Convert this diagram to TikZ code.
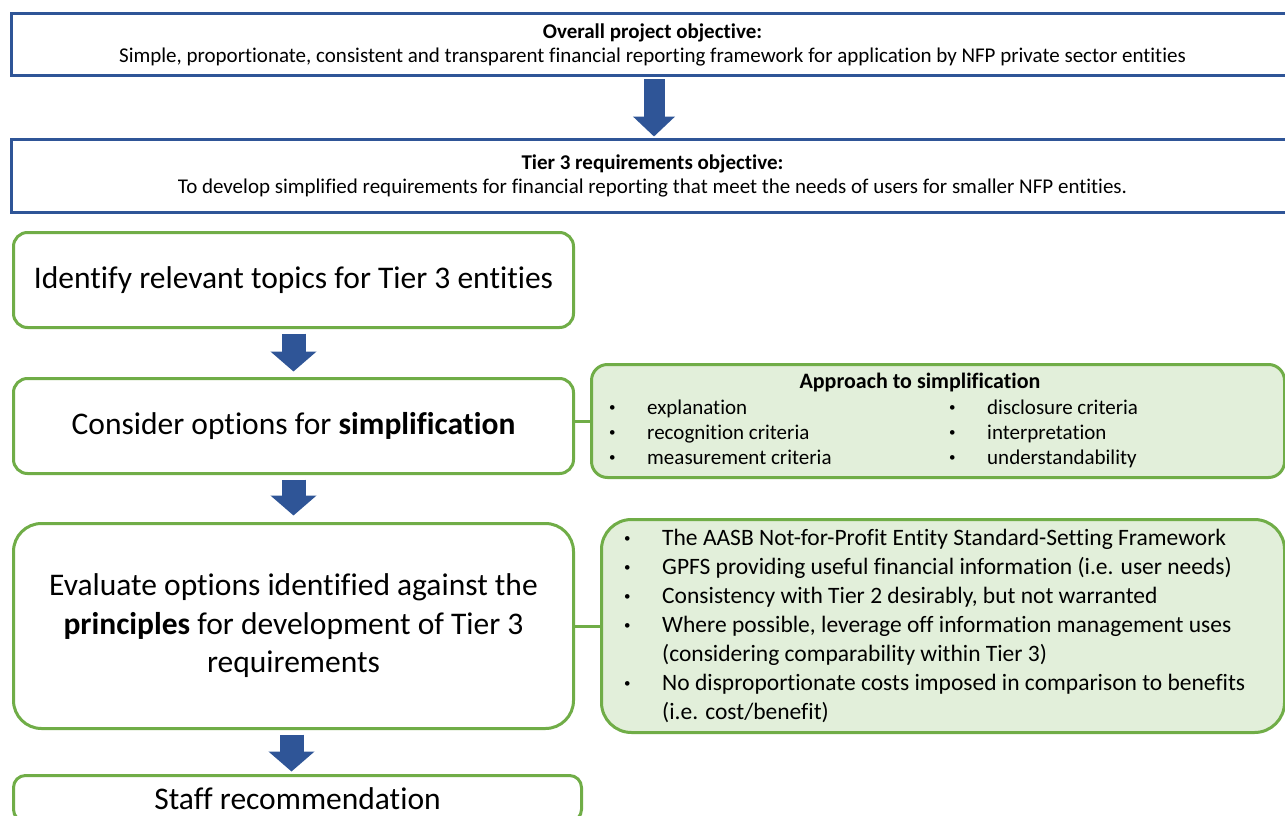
\documentclass[tikz,border=0pt]{standalone}
\usepackage{fontspec}
\setmainfont{Carlito}[Ligatures=NoCommon]
\usetikzlibrary{arrows.meta}
\definecolor{bblue}{HTML}{2F5597}
\definecolor{ggreen}{HTML}{70AD47}
\definecolor{gfill}{HTML}{E2EFDA}
\newcommand{\dotb}{\raisebox{2.5pt}{\fontsize{13}{13}\selectfont •}}
\tikzset{
  bluebox/.style={draw=bblue, line width=3pt, fill=white, rectangle, anchor=north west, align=center, inner sep=0pt, font=\fontsize{21}{24}\selectfont},
  greenbox/.style={draw=ggreen, line width=3pt, fill=white, rectangle, anchor=north west, align=center, inner sep=0pt, font=\fontsize{31.5}{38.5}\selectfont},
  notebox/.style={greenbox, fill=gfill},
  bigarrow/.style={draw=bblue, -{Triangle[width=#1, length=20pt]}},
  link/.style={draw=ggreen, line width=3pt},
  listtext/.style={anchor=base west, inner sep=0pt, align=left}
}
\begin{document}
\begin{tikzpicture}[x=1pt,y=-1pt]
\useasboundingbox (0,0) rectangle (1285,816);
\clip (0,0) rectangle (1285,816);
\fill[white] (0,0) rectangle (1285,816);

% blue objective boxes
\node[bluebox, minimum width=1282pt, minimum height=62pt] (obj) at (10,12)
  {\textbf{Overall project objective:}\\Simple, proportionate, consistent and transparent financial reporting framework for application by NFP private sector entities};
\node[bluebox, minimum width=1282pt, minimum height=73pt] (tier) at (10,138)
  {\textbf{Tier 3 requirements objective:}\\To develop simplified requirements for financial reporting that meet the needs of users for smaller NFP entities.};

% green process boxes
\node[greenbox, rounded corners=14pt, minimum width=560pt, minimum height=95pt] (ident) at (12,231)
  {Identify relevant topics for Tier 3 entities};
\node[greenbox, rounded corners=14pt, minimum width=560pt, minimum height=95pt] (cons) at (12,377)
  {Consider options for \textbf{simplification}};
\node[notebox, rounded corners=16pt, minimum width=693pt, minimum height=113pt] (appr) at (590,363) {};
\node[greenbox, rounded corners=28pt, minimum width=560pt, minimum height=205pt] (eval) at (12,522)
  {Evaluate options identified against the\\\textbf{principles} for development of Tier 3\\requirements};
\node[notebox, rounded corners=30pt, minimum width=683pt, minimum height=213pt] (princ) at (600,518) {};
\node[greenbox, rounded corners=12pt, minimum width=568pt, minimum height=46pt] (staff) at (12,774)
  {Staff recommendation};

% text of the approach box
\node[inner sep=0pt, font=\bfseries\fontsize{22}{24}\selectfont] (apprt) at (920,383) {Approach to simplification};
\node[listtext, font=\fontsize{21}{25}\selectfont] (apprl) at (609,414)
  {\begin{tabular}[t]{@{}p{38pt}@{}l@{}}
   \dotb & explanation\\
   \dotb & recognition criteria\\
   \dotb & measurement criteria
   \end{tabular}};
\node[listtext, font=\fontsize{21}{25}\selectfont] (apprr) at (949,414)
  {\begin{tabular}[t]{@{}p{38pt}@{}l@{}}
   \dotb & disclosure criteria\\
   \dotb & interpretation\\
   \dotb & understandability
   \end{tabular}};

% text of the principles box
\node[listtext, font=\fontsize{23.5}{29}\selectfont] (princl) at (624,545)
  {\begin{tabular}[t]{@{}p{38pt}@{}l@{}}
   \dotb & The AASB Not-for-Profit Entity Standard-Setting Framework\\
   \dotb & GPFS providing useful financial information (i.e. user needs)\\
   \dotb & Consistency with Tier 2 desirably, but not warranted\\
   \dotb & Where possible, leverage off information management uses\\
     & (considering comparability within Tier 3)\\
   \dotb & No disproportionate costs imposed in comparison to benefits\\
     & (i.e. cost/benefit)
   \end{tabular}};

% block arrows
\draw[bigarrow=41pt, line width=21pt, shorten <=2.5pt, shorten >=1.5pt] (obj.south -| 654,0) -- (tier.north -| 654,0);
\draw[bigarrow=45pt, line width=24pt, shorten <=4.5pt, shorten >=5.5pt] (ident.south) -- (cons.north);
\draw[bigarrow=45pt, line width=24pt, shorten <=4.5pt, shorten >=6.5pt] (cons.south) -- (eval.north);
\draw[bigarrow=45pt, line width=24pt, shorten <=4.5pt, shorten >=2.5pt] ([xshift=-2pt]eval.south) -- ([xshift=-2pt]eval.south |- staff.north);

% side links
\draw[link] (cons.east |- appr.west) -- (appr.west);
\draw[link] (eval.east) -- (princ.west);
\end{tikzpicture}
\end{document}
